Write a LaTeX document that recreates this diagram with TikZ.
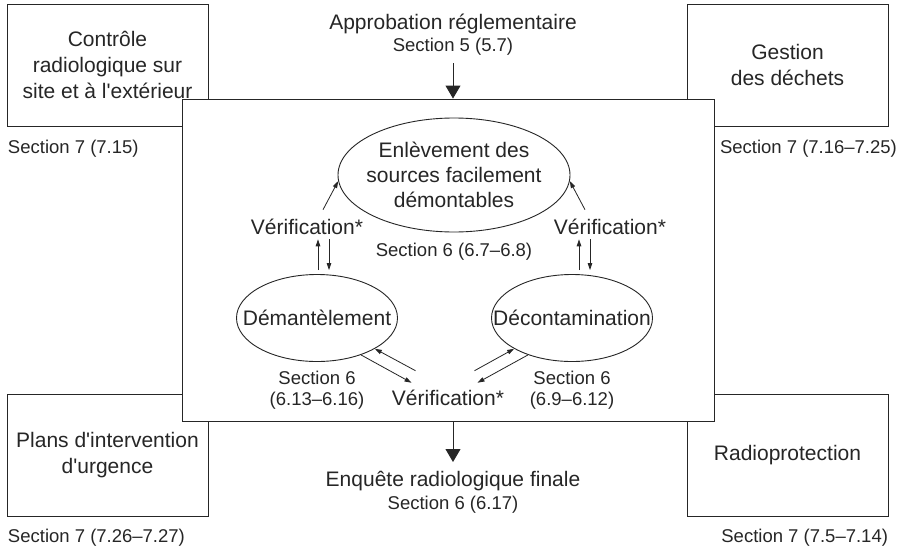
\documentclass[tikz,border=0pt]{standalone}
\usepackage{fontspec}
\setmainfont{Liberation Sans}
\usetikzlibrary{shapes.geometric, arrows.meta, positioning}

\begin{document}
\begin{tikzpicture}[
        x=1pt, y=-1pt,
        color=black!85,
        line width=0.9pt,
        % Cadres, ellipses et textes
        topic/.style={draw, rectangle, fill=white, minimum width=201pt, minimum height=122pt, align=center, font=\fontsize{21}{26}\selectfont},
        mainbox/.style={draw, rectangle, fill=white, minimum width=532pt, minimum height=322pt},
        stage/.style={draw, ellipse, inner sep=0pt},
        heading/.style={font=\fontsize{21}{25}\selectfont, inner sep=0pt, align=center},
        secref/.style={font=\fontsize{18.5}{21}\selectfont, inner sep=0pt, align=center},
        flow/.style={-{Triangle[length=13pt, width=15pt]}},
        link/.style={-{Triangle[length=7pt, width=4.5pt]}, line width=0.8pt}
    ]
        \useasboundingbox (0,0) rectangle (905,549);

        % Domaines de la section 7 (aux quatre coins)
        \node[topic] (monitor) at (107.5,65) {Contrôle\\radiologique sur\\site et à l\textquotesingle extérieur};
        \node[topic] (waste) at (787.5,65) {Gestion\\des déchets};
        \node[topic] (emergency) at (107.5,455) {Plans d\textquotesingle intervention\\d\textquotesingle urgence};
        \node[topic] (protection) at (787.5,455) {Radioprotection};

        \node[secref, below=13pt of monitor.south west, anchor=north west, xshift=1pt] (monitorref) {Section 7 (7.15)};
        \node[secref, below=13pt of waste.south west, anchor=north west, xshift=33pt] (wasteref) {Section 7 (7.16–7.25)};
        \node[secref, below=12pt of emergency.south west, anchor=north west, xshift=1pt] (emergencyref) {Section 7 (7.26–7.27)};
        \node[secref, below=12pt of protection.south east, anchor=north east] (protectionref) {Section 7 (7.5–7.14)};

        % Cadre central (recouvre les coins)
        \node[mainbox] (hub) at (448,260) {};

        % Entrée et sortie
        \node[heading] (approval) at (453,24) {Approbation réglementaire};
        \node[secref, below=3pt of approval] (approvalref) {Section 5 (5.7)};
        \draw[flow, shorten <=8pt] (approvalref.south) -- (approvalref.south |- hub.north);

        \node[heading, anchor=north] (survey) at (453,471) {Enquête radiologique finale};
        \node[secref, below=4pt of survey] (surveyref) {Section 6 (6.17)};
        \draw[flow, shorten >=9pt] (hub.south -| survey.north) -- (survey.north);

        % Activités de la section 6
        \node[stage, minimum width=232pt, minimum height=114pt,
              label={[heading]center:{Enlèvement des\\sources facilement\\démontables}}] (removal) at (454,175) {};
        \node[secref, below=10pt of removal] (removalref) {Section 6 (6.7–6.8)};

        \node[stage, minimum width=161pt, minimum height=87pt,
              label={[heading]center:Démantèlement}] (dismantle) at (317,318) {};
        \node[stage, minimum width=161pt, minimum height=87pt,
              label={[heading]center:Décontamination}] (decon) at (572,318) {};
        \node[secref, below=9pt of dismantle] (dismantleref) {Section 6\\(6.13–6.16)};
        \node[secref, below=9pt of decon] (deconref) {Section 6\\(6.9–6.12)};

        % Vérifications
        \node[heading] (checkleft) at (307,227) {Vérification*};
        \node[heading] (checkright) at (610,227) {Vérification*};
        \node[heading] (checkbottom) at (448,398) {Vérification*};

        \draw[link] ([xshift=16pt, yshift=9pt]checkleft.north) -- (removal.183);
        \draw[link] ([xshift=-25pt, yshift=9pt]checkright.north) -- (removal.357);

        \draw[link, shorten >=4pt, shorten <=4pt] ([xshift=1pt]dismantle.north) -- ([xshift=1pt]dismantle.north |- checkleft.south);
        \draw[link, shorten >=4pt, shorten <=4pt] ([xshift=12pt]dismantle.north |- checkleft.south) -- ([xshift=12pt]dismantle.north);
        \draw[link, shorten >=4pt, shorten <=4pt] ([xshift=7pt]decon.north) -- ([xshift=7pt]decon.north |- checkright.south);
        \draw[link, shorten >=4pt, shorten <=4pt] ([xshift=18pt]decon.north |- checkright.south) -- ([xshift=18pt]decon.north);

        \draw[link] (dismantle.320) -- ([xshift=20pt, yshift=7pt]checkbottom.north west);
        \draw[link] ([xshift=24pt, yshift=19pt]checkbottom.north west) -- (dismantle.332);
        \draw[link] ([xshift=-30pt, yshift=19pt]checkbottom.north east) -- (decon.208);
        \draw[link] (decon.220) -- ([xshift=-27pt, yshift=7pt]checkbottom.north east);

    \end{tikzpicture}
\end{document}
